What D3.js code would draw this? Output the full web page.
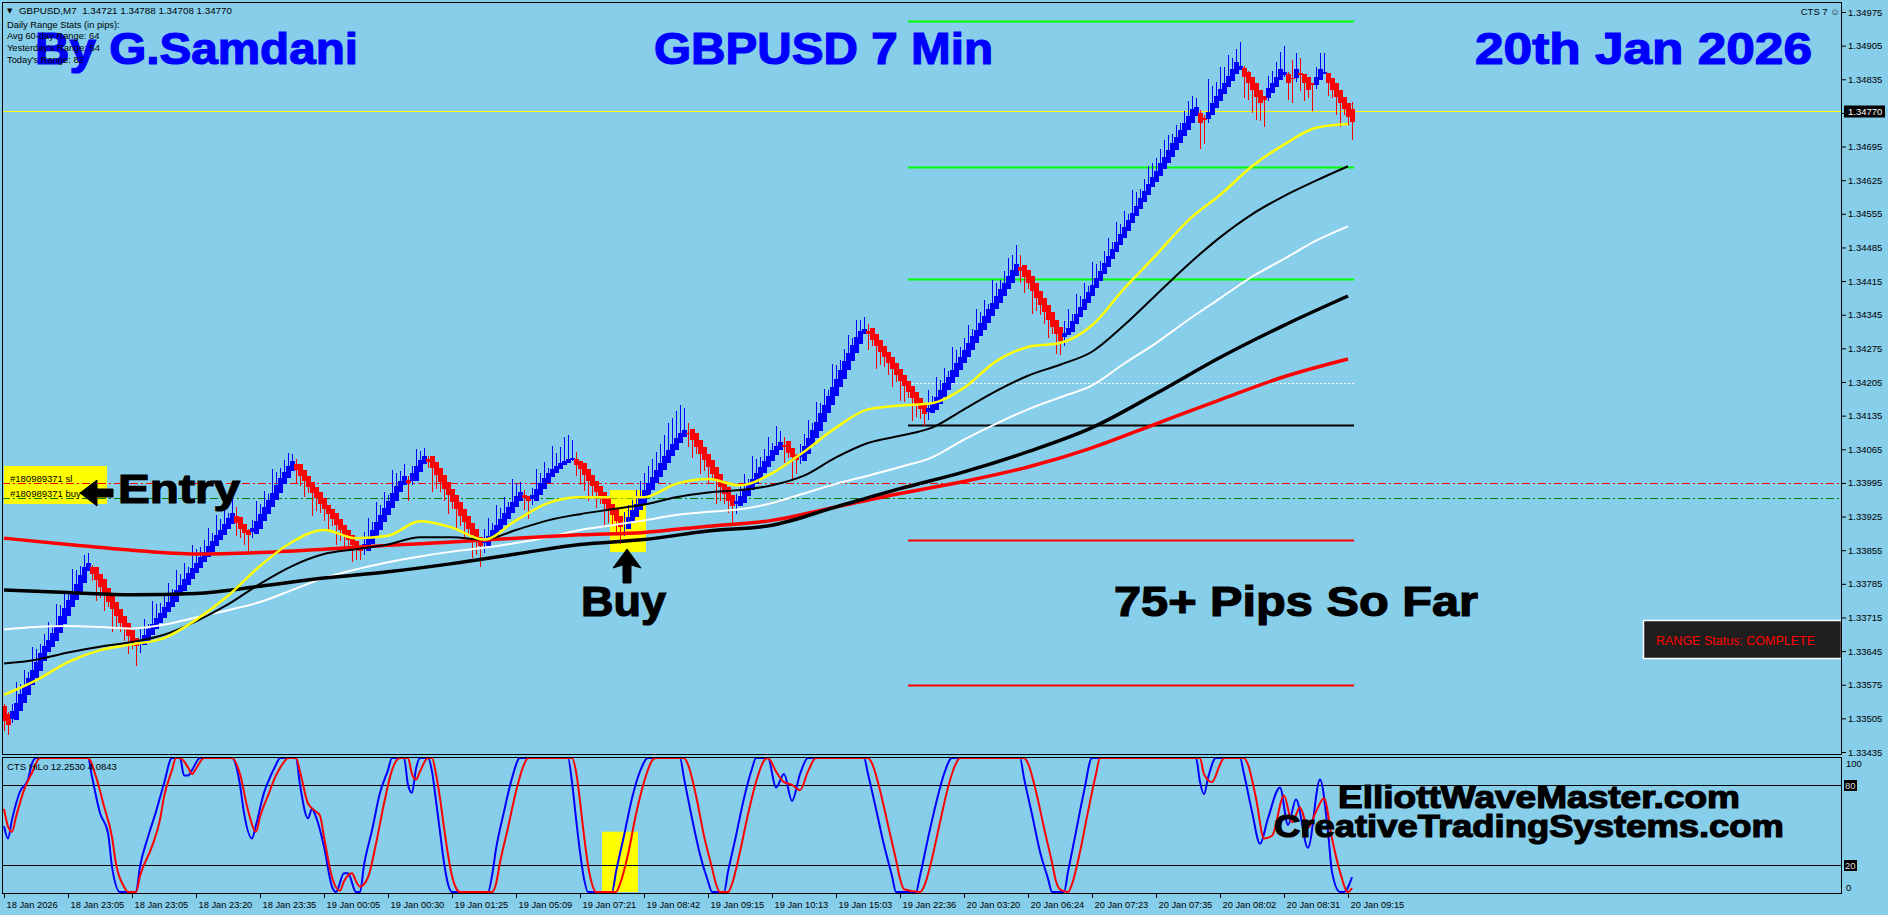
<!DOCTYPE html>
<html><head><meta charset="utf-8">
<script src="https://cdn.jsdelivr.net/npm/d3@7"></script>
<style>
html,body{margin:0;padding:0;background:#87CEEB;overflow:hidden}
svg{display:block}
</style></head>
<body><svg id="chart" width="1888" height="915"></svg>
<script>
// ---------------- DATA ----------------
const opens = [
1.33530,1.33515,1.33503,1.33502,1.33521,1.33538,1.33554,1.33574,1.33590,1.33604,
1.33624,1.33644,1.33653,1.33666,1.33682,1.33701,1.33718,1.33736,1.33751,1.33767,
1.33786,1.33812,1.33820,1.33820,1.33806,1.33794,1.33776,1.33763,1.33748,1.33732,
1.33718,1.33704,1.33688,1.33672,1.33662,1.33658,1.33666,1.33678,1.33690,1.33703,
1.33713,1.33726,1.33736,1.33748,1.33761,1.33771,1.33783,1.33796,1.33807,1.33817,
1.33830,1.33841,1.33851,1.33863,1.33876,1.33886,1.33899,1.33910,1.33926,1.33924,
1.33910,1.33896,1.33893,1.33889,1.33900,1.33915,1.33930,1.33945,1.33960,1.33975,
1.33992,1.34006,1.34020,1.34034,1.34034,1.34022,1.34010,1.33997,1.33986,1.33976,
1.33964,1.33950,1.33940,1.33932,1.33919,1.33908,1.33896,1.33886,1.33874,1.33862,
1.33858,1.33853,1.33868,1.33883,1.33898,1.33913,1.33928,1.33943,1.33958,1.33976,
1.33990,1.34002,1.33998,1.34000,1.34017,1.34034,1.34045,1.34051,1.34039,1.34025,
1.34011,1.33997,1.33983,1.33969,1.33955,1.33941,1.33927,1.33912,1.33899,1.33882,
1.33871,1.33863,1.33874,1.33884,1.33896,1.33908,1.33920,1.33932,1.33945,1.33958,
1.33969,1.33967,1.33962,1.33958,1.33970,1.33983,1.33995,1.34007,1.34016,1.34024,
1.34032,1.34036,1.34042,1.34044,1.34040,1.34036,1.34024,1.34012,1.34000,1.33988,
1.33976,1.33964,1.33952,1.33941,1.33927,1.33909,1.33899,1.33912,1.33924,1.33938,
1.33952,1.33966,1.33980,1.33994,1.34008,1.34022,1.34037,1.34050,1.34064,1.34078,
1.34091,1.34099,1.34108,1.34098,1.34084,1.34070,1.34056,1.34042,1.34028,1.34014,
1.34000,1.33986,1.33969,1.33951,1.33947,1.33954,1.33968,1.33980,1.33992,1.34004,
1.34016,1.34028,1.34041,1.34054,1.34064,1.34074,1.34082,1.34068,1.34054,1.34049,
1.34040,1.34056,1.34071,1.34088,1.34104,1.34122,1.34140,1.34158,1.34176,1.34194,
1.34212,1.34231,1.34248,1.34266,1.34284,1.34305,1.34311,1.34318,1.34304,1.34292,
1.34280,1.34268,1.34256,1.34244,1.34232,1.34220,1.34208,1.34196,1.34184,1.34172,
1.34158,1.34143,1.34140,1.34146,1.34160,1.34174,1.34188,1.34202,1.34216,1.34230,
1.34244,1.34258,1.34272,1.34286,1.34300,1.34314,1.34328,1.34342,1.34356,1.34370,
1.34384,1.34399,1.34412,1.34426,1.34444,1.34448,1.34438,1.34425,1.34410,1.34395,
1.34380,1.34365,1.34350,1.34335,1.34320,1.34298,1.34302,1.34310,1.34325,1.34340,
1.34355,1.34370,1.34385,1.34400,1.34415,1.34430,1.34445,1.34460,1.34475,1.34490,
1.34505,1.34520,1.34535,1.34550,1.34565,1.34580,1.34595,1.34610,1.34622,1.34633,
1.34648,1.34660,1.34674,1.34688,1.34702,1.34716,1.34730,1.34744,1.34758,1.34765,
1.34754,1.34752,1.34760,1.34776,1.34790,1.34805,1.34818,1.34832,1.34846,1.34855,
1.34858,1.34850,1.34840,1.34827,1.34813,1.34800,1.34796,1.34806,1.34819,1.34833,
1.34844,1.34846,1.34838,1.34838,1.34848,1.34846,1.34840,1.34827,1.34823,1.34833,
1.34848,1.34848,1.34838,1.34827,1.34813,1.34798,1.34786,1.34773];
const highs = [
1.33535,1.33518,1.33535,1.33580,1.33577,1.33605,1.33602,1.33654,1.33650,1.33660,
1.33681,1.33706,1.33698,1.33742,1.33740,1.33768,1.33764,1.33816,1.33813,1.33823,
1.33845,1.33850,1.33825,1.33813,1.33799,1.33786,1.33769,1.33755,1.33740,1.33725,
1.33711,1.33697,1.33682,1.33668,1.33690,1.33711,1.33702,1.33750,1.33742,1.33745,
1.33762,1.33786,1.33775,1.33814,1.33805,1.33828,1.33819,1.33866,1.33857,1.33861,
1.33877,1.33901,1.33890,1.33929,1.33920,1.33943,1.33933,1.33980,1.33945,1.33919,
1.33910,1.33900,1.33917,1.33957,1.33952,1.33978,1.33972,1.34023,1.34018,1.34025,
1.34043,1.34058,1.34055,1.34045,1.34028,1.34016,1.34004,1.33991,1.33980,1.33970,
1.33958,1.33945,1.33935,1.33926,1.33914,1.33902,1.33891,1.33881,1.33871,1.33862,
1.33893,1.33921,1.33913,1.33955,1.33950,1.33976,1.33970,1.34021,1.34016,1.34020,
1.34035,1.34010,1.34030,1.34065,1.34062,1.34068,1.34050,1.34042,1.34032,1.34018,
1.34004,1.33990,1.33976,1.33962,1.33948,1.33934,1.33920,1.33906,1.33893,1.33878,
1.33899,1.33923,1.33911,1.33950,1.33942,1.33965,1.33956,1.34004,1.33995,1.33996,
1.33980,1.33967,1.33985,1.34024,1.34016,1.34038,1.34027,1.34071,1.34058,1.34070,
1.34090,1.34095,1.34085,1.34060,1.34038,1.34031,1.34018,1.34006,1.33994,1.33982,
1.33970,1.33958,1.33946,1.33934,1.33921,1.33935,1.33950,1.33960,1.33980,1.34000,
1.34015,1.34030,1.34045,1.34060,1.34075,1.34095,1.34120,1.34130,1.34145,1.34157,
1.34150,1.34120,1.34100,1.34092,1.34081,1.34067,1.34053,1.34039,1.34025,1.34011,
1.33997,1.33983,1.33969,1.33972,1.33989,1.34013,1.34004,1.34052,1.34044,1.34048,
1.34065,1.34090,1.34078,1.34114,1.34102,1.34090,1.34072,1.34065,1.34056,1.34076,
1.34097,1.34126,1.34120,1.34164,1.34162,1.34191,1.34188,1.34242,1.34240,1.34250,
1.34273,1.34303,1.34297,1.34335,1.34334,1.34340,1.34325,1.34308,1.34300,1.34290,
1.34279,1.34267,1.34255,1.34243,1.34231,1.34219,1.34207,1.34195,1.34183,1.34171,
1.34159,1.34188,1.34175,1.34216,1.34210,1.34235,1.34228,1.34278,1.34272,1.34278,
1.34297,1.34324,1.34315,1.34356,1.34350,1.34375,1.34368,1.34418,1.34412,1.34418,
1.34437,1.34463,1.34470,1.34490,1.34470,1.34440,1.34432,1.34421,1.34408,1.34394,
1.34380,1.34365,1.34350,1.34335,1.34320,1.34331,1.34356,1.34347,1.34389,1.34384,
1.34410,1.34404,1.34455,1.34450,1.34457,1.34477,1.34505,1.34497,1.34539,1.34534,
1.34560,1.34554,1.34605,1.34600,1.34607,1.34627,1.34655,1.34660,1.34672,1.34690,
1.34708,1.34718,1.34722,1.34740,1.34745,1.34768,1.34790,1.34800,1.34795,1.34772,
1.34760,1.34835,1.34820,1.34830,1.34860,1.34860,1.34885,1.34880,1.34898,1.34913,
1.34862,1.34852,1.34840,1.34827,1.34813,1.34800,1.34842,1.34852,1.34870,1.34892,
1.34904,1.34850,1.34875,1.34890,1.34880,1.34846,1.34840,1.34827,1.34860,1.34890,
1.34890,1.34848,1.34838,1.34827,1.34813,1.34798,1.34786,1.34788];
const lows = [
1.33478,1.33470,1.33495,1.33511,1.33530,1.33547,1.33563,1.33582,1.33598,1.33613,
1.33632,1.33650,1.33661,1.33675,1.33691,1.33710,1.33727,1.33744,1.33760,1.33776,
1.33795,1.33812,1.33791,1.33750,1.33756,1.33729,1.33736,1.33685,1.33690,1.33684,
1.33665,1.33638,1.33649,1.33614,1.33640,1.33660,1.33673,1.33684,1.33696,1.33708,
1.33719,1.33731,1.33742,1.33754,1.33766,1.33777,1.33789,1.33801,1.33812,1.33823,
1.33835,1.33846,1.33857,1.33869,1.33881,1.33892,1.33904,1.33915,1.33884,1.33880,
1.33865,1.33848,1.33880,1.33896,1.33908,1.33922,1.33938,1.33952,1.33968,1.33982,
1.33998,1.34012,1.34025,1.33995,1.33988,1.33965,1.33974,1.33927,1.33936,1.33932,
1.33915,1.33892,1.33905,1.33866,1.33875,1.33853,1.33864,1.33830,1.33835,1.33834,
1.33845,1.33861,1.33876,1.33890,1.33906,1.33920,1.33936,1.33950,1.33966,1.33982,
1.33995,1.33957,1.33990,1.34008,1.34023,1.34038,1.34026,1.33977,1.33983,1.33977,
1.33958,1.33931,1.33940,1.33899,1.33905,1.33880,1.33887,1.33838,1.33845,1.33820,
1.33850,1.33866,1.33880,1.33890,1.33902,1.33914,1.33926,1.33938,1.33950,1.33962,
1.33939,1.33920,1.33950,1.33964,1.33976,1.33988,1.34000,1.34010,1.34019,1.34026,
1.34033,1.34038,1.34041,1.34010,1.33990,1.33979,1.33958,1.33966,1.33943,1.33952,
1.33904,1.33912,1.33908,1.33890,1.33868,1.33885,1.33905,1.33918,1.33931,1.33945,
1.33959,1.33973,1.33987,1.34001,1.34015,1.34029,1.34043,1.34057,1.34070,1.34082,
1.34093,1.34070,1.34046,1.34055,1.34014,1.34020,1.33995,1.34002,1.33952,1.33958,
1.33952,1.33933,1.33909,1.33930,1.33954,1.33961,1.33973,1.33986,1.33998,1.34010,
1.34022,1.34034,1.34046,1.34057,1.34067,1.34037,1.34046,1.34000,1.34014,1.34035,
1.34052,1.34064,1.34080,1.34096,1.34113,1.34131,1.34149,1.34167,1.34185,1.34203,
1.34221,1.34239,1.34256,1.34274,1.34290,1.34305,1.34272,1.34280,1.34232,1.34240,
1.34236,1.34219,1.34194,1.34205,1.34166,1.34163,1.34172,1.34124,1.34132,1.34128,
1.34113,1.34125,1.34145,1.34153,1.34167,1.34181,1.34195,1.34209,1.34223,1.34237,
1.34251,1.34265,1.34279,1.34293,1.34307,1.34321,1.34335,1.34349,1.34363,1.34377,
1.34391,1.34405,1.34418,1.34430,1.34410,1.34391,1.34398,1.34347,1.34352,1.34345,
1.34325,1.34297,1.34305,1.34263,1.34262,1.34280,1.34302,1.34310,1.34325,1.34340,
1.34355,1.34370,1.34385,1.34400,1.34415,1.34430,1.34445,1.34460,1.34475,1.34490,
1.34505,1.34520,1.34535,1.34550,1.34565,1.34580,1.34595,1.34610,1.34622,1.34633,
1.34648,1.34660,1.34674,1.34688,1.34702,1.34716,1.34730,1.34744,1.34758,1.34690,
1.34700,1.34745,1.34760,1.34776,1.34790,1.34805,1.34818,1.34832,1.34846,1.34855,
1.34795,1.34792,1.34765,1.34750,1.34748,1.34736,1.34790,1.34806,1.34819,1.34833,
1.34840,1.34792,1.34785,1.34830,1.34810,1.34790,1.34795,1.34770,1.34815,1.34833,
1.34845,1.34800,1.34795,1.34760,1.34735,1.34760,1.34740,1.34708];
const closes = [
1.33500,1.33492,1.33520,1.33538,1.33555,1.33572,1.33590,1.33606,1.33622,1.33640,
1.33656,1.33668,1.33683,1.33700,1.33718,1.33735,1.33752,1.33768,1.33785,1.33803,
1.33820,1.33828,1.33806,1.33792,1.33778,1.33762,1.33748,1.33733,1.33718,1.33704,
1.33690,1.33676,1.33664,1.33656,1.33668,1.33678,1.33690,1.33702,1.33714,1.33725,
1.33737,1.33748,1.33760,1.33772,1.33783,1.33795,1.33807,1.33818,1.33829,1.33841,
1.33852,1.33863,1.33875,1.33887,1.33898,1.33910,1.33921,1.33932,1.33912,1.33900,
1.33890,1.33886,1.33902,1.33915,1.33930,1.33945,1.33960,1.33975,1.33990,1.34005,
1.34018,1.34030,1.34040,1.34022,1.34010,1.33998,1.33986,1.33975,1.33964,1.33952,
1.33940,1.33930,1.33920,1.33908,1.33897,1.33886,1.33876,1.33866,1.33858,1.33854,
1.33868,1.33883,1.33898,1.33913,1.33928,1.33943,1.33958,1.33973,1.33988,1.34000,
1.34010,1.33995,1.34015,1.34030,1.34043,1.34052,1.34038,1.34025,1.34011,1.33997,
1.33983,1.33969,1.33955,1.33941,1.33927,1.33913,1.33899,1.33886,1.33873,1.33864,
1.33874,1.33885,1.33896,1.33908,1.33920,1.33932,1.33944,1.33956,1.33967,1.33976,
1.33964,1.33958,1.33970,1.33982,1.33994,1.34005,1.34015,1.34023,1.34030,1.34036,
1.34040,1.34044,1.34046,1.34032,1.34024,1.34012,1.34000,1.33988,1.33976,1.33964,
1.33952,1.33940,1.33928,1.33915,1.33903,1.33912,1.33925,1.33938,1.33952,1.33966,
1.33980,1.33994,1.34008,1.34022,1.34036,1.34050,1.34063,1.34076,1.34088,1.34098,
1.34105,1.34096,1.34084,1.34070,1.34056,1.34042,1.34028,1.34014,1.34000,1.33986,
1.33972,1.33958,1.33947,1.33957,1.33967,1.33980,1.33992,1.34004,1.34016,1.34028,
1.34040,1.34052,1.34063,1.34072,1.34080,1.34070,1.34058,1.34048,1.34042,1.34056,
1.34072,1.34088,1.34105,1.34122,1.34140,1.34158,1.34176,1.34194,1.34212,1.34230,
1.34248,1.34265,1.34282,1.34298,1.34312,1.34316,1.34305,1.34292,1.34280,1.34268,
1.34256,1.34244,1.34232,1.34220,1.34208,1.34196,1.34184,1.34172,1.34160,1.34148,
1.34138,1.34150,1.34160,1.34174,1.34188,1.34202,1.34216,1.34230,1.34244,1.34258,
1.34272,1.34286,1.34300,1.34314,1.34328,1.34342,1.34356,1.34370,1.34384,1.34398,
1.34412,1.34425,1.34438,1.34450,1.34436,1.34424,1.34410,1.34395,1.34380,1.34365,
1.34350,1.34335,1.34320,1.34305,1.34290,1.34306,1.34318,1.34332,1.34347,1.34362,
1.34377,1.34392,1.34407,1.34422,1.34437,1.34452,1.34467,1.34482,1.34497,1.34512,
1.34527,1.34542,1.34557,1.34572,1.34587,1.34602,1.34617,1.34632,1.34644,1.34660,
1.34673,1.34688,1.34702,1.34715,1.34729,1.34744,1.34759,1.34773,1.34777,1.34744,
1.34750,1.34767,1.34786,1.34800,1.34815,1.34827,1.34842,1.34856,1.34871,1.34863,
1.34840,1.34827,1.34813,1.34798,1.34786,1.34792,1.34817,1.34827,1.34840,1.34856,
1.34850,1.34827,1.34836,1.34856,1.34844,1.34827,1.34813,1.34823,1.34840,1.34856,
1.34850,1.34827,1.34813,1.34798,1.34786,1.34773,1.34757,1.34746];

// moving averages (sampled at bar indices)
const maBars8 = [0,8,16,24,32,40,48,56,64,72,80,88,96,104,112,120,128,136,144,152,160,168,176,184,192,200,208,216,224,232,240,248,256,264,272,280,288,296,304,312,320,328,336];
const maYellow = [1.33554,1.33584,1.33622,1.33647,1.33659,1.33672,1.33710,1.33760,1.33822,1.33872,1.33897,1.33880,1.33885,1.33915,1.33902,1.33877,1.33917,1.33953,1.33965,1.33965,1.33965,1.33993,1.34003,1.33990,1.34015,1.34060,1.34110,1.34148,1.34156,1.34161,1.34193,1.34248,1.34278,1.34286,1.34323,1.34399,1.34469,1.34541,1.34594,1.34654,1.34699,1.34734,1.34742];
const maBlackFast = [1.33619,1.33627,1.33642,1.33654,1.33664,1.33679,1.33707,1.33742,1.33785,1.33822,1.33847,1.33857,1.33867,1.33882,1.33882,1.33877,1.33897,1.33917,1.33930,1.33940,1.33950,1.33965,1.33975,1.33980,1.33990,1.34010,1.34048,1.34078,1.34093,1.34110,1.34148,1.34186,1.34218,1.34241,1.34268,1.34323,1.34386,1.34449,1.34506,1.34554,1.34592,1.34624,1.34654];
const maWhite = [1.33690,1.33695,1.33697,1.33695,1.33692,1.33700,1.33715,1.33730,1.33747,1.33772,1.33797,1.33815,1.33830,1.33842,1.33852,1.33860,1.33870,1.33882,1.33897,1.33907,1.33917,1.33928,1.33935,1.33940,1.33953,1.33973,1.33993,1.34010,1.34028,1.34048,1.34085,1.34118,1.34148,1.34173,1.34198,1.34243,1.34286,1.34334,1.34379,1.34424,1.34461,1.34499,1.34529];
const maBars16 = [0,16,32,48,64,80,96,112,128,144,160,176,192,208,224,240,256,272,288,304,320,336];
const maBlackSlow = [1.33772,1.33767,1.33762,1.33765,1.33780,1.33797,1.33810,1.33827,1.33847,1.33867,1.33877,1.33895,1.33907,1.33945,1.33983,1.34018,1.34060,1.34110,1.34181,1.34256,1.34323,1.34384];
const maRed = [1.33880,1.33867,1.33855,1.33847,1.33850,1.33857,1.33865,1.33872,1.33880,1.33887,1.33892,1.33905,1.33917,1.33945,1.33973,1.33998,1.34028,1.34068,1.34118,1.34168,1.34216,1.34253];

// oscillator (CTS HiLo) turning points: bar index / value
const oscBlueBar = [0,1,2,4,6,7,8,21,22,24,26,27,29,33,34,36,38,40,42,44,45,46,47,49,57,59,60,62,63,65,66,68,69,73,74,76,77,78,80,82,83,85,86,88,89,90,92,94,96,97,100,101,102,103,104,106,107,108,109,110,111,112,121,122,123,125,127,129,141,142,143,144,145,146,152,153,155,157,159,161,169,170,172,174,176,177,180,181,183,185,187,188,191,193,195,197,199,201,215,216,218,220,222,223,228,229,231,233,235,237,254,255,257,259,261,262,265,266,268,270,272,298,299,300,301,303,309,310,312,314,316,319,321,323,326,329,331,332,334,335,337];
const oscBlueVal = [49,40,54,75,84,96,100,100,86,59,44,19,0,0,19,41,60,81,100,100,87,87,91,100,100,80,59,40,50,74,82,95,100,100,80,55,62,56,34,4,0,14,14,0,0,20,46,74,91,100,100,80,74,92,100,100,90,68,45,22,6,0,0,12,32,60,85,100,100,82,55,30,10,0,0,15,42,70,90,100,100,85,55,28,8,0,0,15,42,70,92,100,100,78,88,68,88,100,100,88,62,35,12,0,0,12,40,66,88,100,100,85,58,30,10,0,0,15,45,75,100,100,82,73,85,100,100,88,60,36,55,78,50,69,33,84,45,15,0,0,11];
const oscRedBar = [0,1,2,3,5,7,9,21,23,25,27,28,30,31,33,34,37,39,40,42,43,44,46,47,48,50,57,59,61,63,64,66,68,70,71,73,74,76,78,79,80,82,84,85,87,88,89,91,93,95,97,99,101,102,103,104,106,107,108,109,110,111,112,113,114,122,123,124,126,128,130,131,142,143,144,145,146,147,148,153,154,156,158,160,162,163,170,171,173,175,177,178,179,181,182,184,186,188,190,191,193,195,197,199,201,203,216,217,219,221,223,224,225,229,230,232,234,236,238,239,255,256,258,260,262,263,264,266,267,269,271,273,274,299,300,302,304,305,310,311,313,315,317,320,322,324,326,328,330,332,334,336,337];
const oscRedVal = [62,49,45,56,76,89,100,100,86,64,41,21,4,0,0,12,34,54,71,91,100,100,93,88,92,100,100,88,61,45,56,72,87,97,100,100,90,66,60,57,41,11,1,8,14,8,4,11,36,66,91,100,100,88,84,90,100,100,88,70,48,28,12,3,0,0,6,22,48,75,95,100,100,90,68,42,20,6,0,0,6,28,58,82,98,100,100,95,72,42,18,6,0,0,6,30,58,82,98,100,90,82,80,76,90,100,100,96,76,50,24,10,2,0,4,25,52,78,96,100,100,96,75,48,22,8,2,0,6,30,60,88,100,100,88,82,95,100,100,95,70,40,42,72,52,63,48,60,70,40,15,0,3];
const oscLevels = [80, 20];

// axis labels
const priceTicks = [1.34975,1.34905,1.34835,1.34765,1.34695,1.34625,1.34555,1.34485,1.34415,1.34345,1.34275,1.34205,1.34135,1.34065,1.33995,1.33925,1.33855,1.33785,1.33715,1.33645,1.33575,1.33505,1.33435];
const timeBars = [0,16,32,48,64,80,96,112,128,144,160,176,192,208,224,240,256,272,288,304,320,336];
const timeLabels = ["18 Jan 2026","18 Jan 23:05","18 Jan 23:05","18 Jan 23:20","18 Jan 23:35","19 Jan 00:05","19 Jan 00:30","19 Jan 01:25","19 Jan 05:09","19 Jan 07:21","19 Jan 08:42","19 Jan 09:15","19 Jan 10:13","19 Jan 15:03","19 Jan 22:36","20 Jan 03:20","20 Jan 06:24","20 Jan 07:23","20 Jan 07:35","20 Jan 08:02","20 Jan 08:31","20 Jan 09:15"];

// horizontal levels
const levelPrices = [1.34957,1.34652,1.34419,1.34203,1.34116,1.33877,1.33574];
const levelKinds = ["green","green","green","whiteDot","black","red","red"];
const levelBars = [226, 337];
const bidPrice = 1.34770;
const slPrice = 1.33995;
const buyPrice = 1.33964;
const buyBoxBars = [151.5, 160.5];
const buyBoxPrices = [1.33851, 1.33980];
const oscBoxBars = [149.5, 158.5];
const oscBoxVals = [0, 45];
const infoLines = ["Daily Range Stats (in pips):","Avg 60-day Range: 64","Yesterday's Range: 54","Today's Range: 82"];

// ---------------- DRAW ----------------
const FONT = "'Liberation Sans', Arial, Helvetica, sans-serif";
const BG = "#87CEEB";
const svg = d3.select("#chart");
svg.append("rect").attr("width",1888).attr("height",915).attr("fill",BG);

const x = d3.scaleLinear().domain([0,337]).range([4,1352]);
const y = d3.scaleLinear().domain([1.33435,1.34975]).range([752,12]);
const yo = d3.scaleLinear().domain([0,100]).range([892,758]);
const L = 2, R = 1842;

const defs = svg.append("defs");
defs.append("clipPath").attr("id","cm").append("rect").attr("x",L).attr("y",2).attr("width",R-L).attr("height",753);
defs.append("clipPath").attr("id","co").append("rect").attr("x",L).attr("y",757).attr("width",R-L).attr("height",137);

const main = svg.append("g").attr("clip-path","url(#cm)");

function bigText(g, txt, x0, base, size, len, color){
  g.append("text").attr("x",x0).attr("y",base).text(txt)
   .attr("font-family",FONT).attr("font-weight","bold").attr("font-size",size)
   .attr("fill",color).attr("stroke",color).attr("stroke-width",1.2)
   .attr("textLength",len).attr("lengthAdjust","spacingAndGlyphs");
}
bigText(main,"By G.Samdani",35,64,44,323,"#0000ff");
bigText(main,"GBPUSD 7 Min",654,64,44,339,"#0000ff");
bigText(main,"20th Jan 2026",1475,64,44,337,"#0000ff");

main.append("rect").attr("x",x(buyBoxBars[0])).attr("width",x(buyBoxBars[1])-x(buyBoxBars[0]))
  .attr("y",y(buyBoxPrices[1])).attr("height",y(buyBoxPrices[0])-y(buyBoxPrices[1])).attr("fill","#ffff00");

const levelStyle = {green:{c:"#00ff00",w:2,d:null}, black:{c:"#000000",w:2,d:null}, red:{c:"#ff0000",w:2,d:null}, whiteDot:{c:"#ffffff",w:1,d:"2,2"}};
levelPrices.forEach((p,i)=>{
  const s = levelStyle[levelKinds[i]];
  main.append("line").attr("x1",x(levelBars[0])).attr("x2",x(levelBars[1])+2)
    .attr("y1",Math.round(y(p))+0.5).attr("y2",Math.round(y(p))+0.5)
    .attr("stroke",s.c).attr("stroke-width",s.w).attr("stroke-dasharray",s.d);
});
function dashLine(g, p, c, x1, x2){
  g.append("line").attr("x1",x1).attr("x2",x2).attr("y1",Math.round(y(p))+0.5).attr("y2",Math.round(y(p))+0.5)
    .attr("stroke",c).attr("stroke-width",1).attr("stroke-dasharray","8,3,2,3");
}
dashLine(main, slPrice, "#ff0000", L, R);
dashLine(main, buyPrice, "#008000", L, R);
main.append("line").attr("x1",L).attr("x2",R).attr("y1",Math.round(y(bidPrice))+0.5).attr("y2",Math.round(y(bidPrice))+0.5)
  .attr("stroke","#ffff00").attr("stroke-width",1);

// candles
const idx = d3.range(closes.length);
const col = i => closes[i] >= opens[i] ? "#0000ff" : "#ff0000";
const cg = main.append("g").attr("shape-rendering","crispEdges");
cg.selectAll("line").data(idx).join("line")
  .attr("x1",i=>x(i)+0.5).attr("x2",i=>x(i)+0.5)
  .attr("y1",i=>y(highs[i])).attr("y2",i=>y(lows[i]))
  .attr("stroke",col).attr("stroke-width",1);
cg.selectAll("rect").data(idx).join("rect")
  .attr("x",i=>x(i)-2).attr("width",5)
  .attr("y",i=>y(Math.max(opens[i],closes[i])))
  .attr("height",i=>Math.max(1.5,Math.abs(y(opens[i])-y(closes[i]))))
  .attr("fill",col);

// moving averages
const lineGen = d3.line().x(d=>x(d[0])).y(d=>y(d[1])).curve(d3.curveMonotoneX);
const maList = [
  {bars:maBars8, vals:maWhite, c:"#ffffff", w:2},
  {bars:maBars16, vals:maRed, c:"#ff0000", w:3.5},
  {bars:maBars16, vals:maBlackSlow, c:"#000000", w:3.5},
  {bars:maBars8, vals:maBlackFast, c:"#000000", w:2},
  {bars:maBars8, vals:maYellow, c:"#ffff00", w:2.5}
];
maList.forEach(m=>{
  main.append("path").datum(d3.zip(m.bars,m.vals)).attr("d",lineGen)
    .attr("fill","none").attr("stroke",m.c).attr("stroke-width",m.w);
});

// Entry label box
main.append("rect").attr("x",4).attr("y",466).attr("width",103).attr("height",38).attr("fill","#ffff00");
dashLine(main, slPrice, "#ff0000", L, 107);
dashLine(main, buyPrice, "#008000", L, 107);
main.append("text").attr("x",10).attr("y",482).text("#180989371 sl").attr("font-family",FONT).attr("font-size",9.5).attr("fill","#000");
main.append("text").attr("x",10).attr("y",497).text("#180989371 buy").attr("font-family",FONT).attr("font-size",9.5).attr("fill","#000");

// annotations
main.append("path").attr("d","M80,493 L97,480 L97,489 L113,489 L113,497 L97,497 L97,506 Z")
  .attr("fill","#000").attr("stroke","#000").attr("stroke-width",1);
bigText(main,"Entry",118,503,40,122,"#000000");
bigText(main,"Buy",581,616,42,85,"#000000");
bigText(main,"75+ Pips So Far",1114,616,42,364,"#000000");
const ax = 627, at = 549;
main.append("path").attr("d",`M${ax},${at} L${ax+14},${at+19} L${ax+4},${at+16} L${ax+4},${at+34} L${ax-4},${at+34} L${ax-4},${at+16} L${ax-14},${at+19} Z`)
  .attr("fill","#000").attr("stroke","#000").attr("stroke-width",1);

// range status box
main.append("rect").attr("x",1643.5).attr("y",620.5).attr("width",198).attr("height",38).attr("fill","#1e1e1e").attr("stroke","#ffffff").attr("stroke-width",1.5);
main.append("text").attr("x",1656).attr("y",645).text("RANGE Status: COMPLETE").attr("font-family",FONT).attr("font-size",12.5).attr("fill","#ff0000");

// info text (top-left)
main.append("text").attr("x",7).attr("y",13).text("\u25BC").attr("font-family","'DejaVu Sans', sans-serif").attr("font-size",7).attr("fill","#000");
main.append("text").attr("x",19).attr("y",14).text("GBPUSD,M7  1.34721 1.34788 1.34708 1.34770").attr("font-family",FONT).attr("font-size",9.8).attr("fill","#000").attr("xml:space","preserve");
infoLines.forEach((t,i)=>{
  main.append("text").attr("x",7).attr("y",[27.5,39,51,62.5][i]).text(t).attr("font-family",FONT).attr("font-size",9.3).attr("fill","#000");
});
main.append("text").attr("x",1840).attr("y",15).attr("text-anchor","end").text("CTS 7 \u263A").attr("font-family",FONT).attr("font-size",9.5).attr("fill","#000");

// ---------- oscillator panel ----------
const osc = svg.append("g").attr("clip-path","url(#co)");
osc.append("rect").attr("x",x(oscBoxBars[0])).attr("width",x(oscBoxBars[1])-x(oscBoxBars[0]))
  .attr("y",yo(oscBoxVals[1])).attr("height",yo(oscBoxVals[0])-yo(oscBoxVals[1])).attr("fill","#ffff00");
oscLevels.forEach(v=>{
  osc.append("line").attr("x1",L).attr("x2",R).attr("y1",Math.round(yo(v))+0.5).attr("y2",Math.round(yo(v))+0.5)
    .attr("stroke","#000").attr("stroke-width",1);
});
const oscLine = d3.line().x(d=>x(d[0])).y(d=>yo(d[1])).curve(d3.curveMonotoneX);
osc.append("path").datum(d3.zip(oscBlueBar,oscBlueVal)).attr("d",oscLine).attr("fill","none").attr("stroke","#0000ff").attr("stroke-width",2);
osc.append("path").datum(d3.zip(oscRedBar,oscRedVal)).attr("d",oscLine).attr("fill","none").attr("stroke","#ff0000").attr("stroke-width",2);
bigText(osc,"ElliottWaveMaster.com",1338,808,31,402,"#000000");
bigText(osc,"CreativeTradingSystems.com",1274,837,31,510,"#000000");
osc.append("text").attr("x",7).attr("y",770).text("CTS HiLo 12.2530 4.0843").attr("font-family",FONT).attr("font-size",9.5).attr("fill","#000");

// frames
svg.append("rect").attr("x",L+0.5).attr("y",2.5).attr("width",R-L-1).attr("height",752).attr("fill","none").attr("stroke","#000");
svg.append("rect").attr("x",L+0.5).attr("y",757.5).attr("width",R-L-1).attr("height",136).attr("fill","none").attr("stroke","#000");

// price axis
const gy = svg.append("g").attr("transform",`translate(${R},0)`)
  .call(d3.axisRight(y).tickValues(priceTicks).tickSize(4).tickFormat(d3.format(".5f")));
gy.select(".domain").remove();
gy.selectAll("line").attr("stroke","#000");
gy.selectAll("text").attr("font-family",FONT).attr("font-size",9.5).attr("fill","#000").attr("x",6);
svg.append("rect").attr("x",1844).attr("y",Math.round(y(bidPrice))-5.5).attr("width",41).attr("height",12).attr("fill","#000");
svg.append("text").attr("x",1848).attr("y",Math.round(y(bidPrice))+4).text(d3.format(".5f")(bidPrice))
  .attr("font-family",FONT).attr("font-size",9.5).attr("fill","#fff");

// oscillator axis labels
svg.append("text").attr("x",1846).attr("y",yo(100)+9).text("100").attr("font-family",FONT).attr("font-size",9.5).attr("fill","#000");
svg.append("text").attr("x",1846).attr("y",yo(0)-1).text("0").attr("font-family",FONT).attr("font-size",9.5).attr("fill","#000");
oscLevels.forEach(v=>{
  svg.append("rect").attr("x",1844).attr("y",Math.round(yo(v))-5).attr("width",13).attr("height",11).attr("fill","#000");
  svg.append("text").attr("x",1845).attr("y",Math.round(yo(v))+4).text(v).attr("font-family",FONT).attr("font-size",9.5).attr("fill","#ddd");
});

// time axis
const gx = svg.append("g").attr("transform","translate(0,894)")
  .call(d3.axisBottom(x).tickValues(timeBars).tickSize(4).tickFormat((d,i)=>timeLabels[i]));
gx.select(".domain").remove();
gx.selectAll("line").attr("stroke","#000");
gx.selectAll("text").attr("font-family",FONT).attr("font-size",9.3).attr("fill","#000").attr("text-anchor","start").attr("x",2);
</script>
</body></html>
